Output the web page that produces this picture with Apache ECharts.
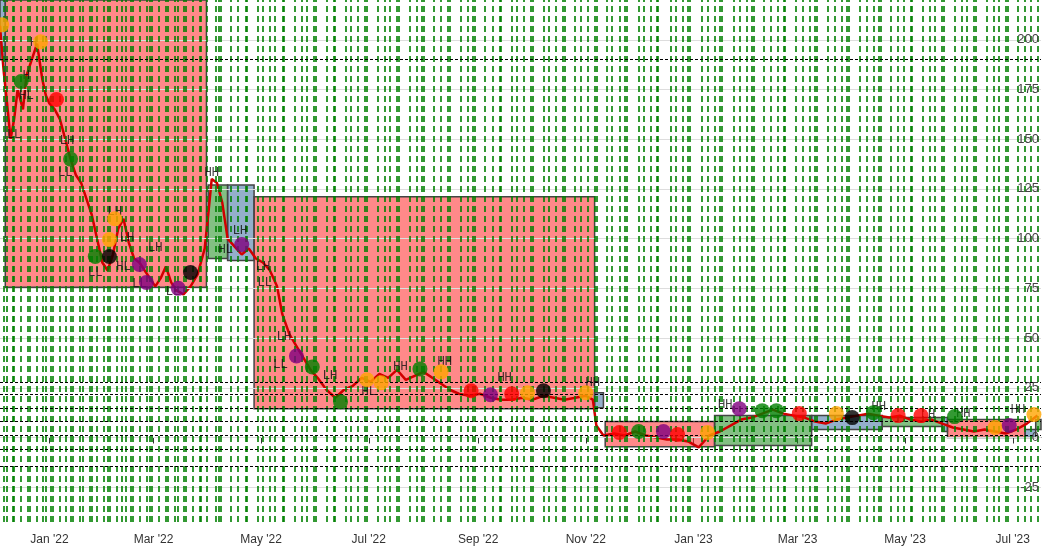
<!DOCTYPE html>
<html>
<head>
<meta charset="utf-8">
<script src="https://cdn.jsdelivr.net/npm/echarts@6/dist/echarts.min.js"></script>
<style>
  html, body { margin: 0; padding: 0; background: #fff; }
  #chart { width: 1042px; height: 554px; }
</style>
</head>
<body>
<div id="chart"></div>
<script>
// all x positions are days since 2021-12-04
const baseDate = Date.UTC(2021, 11, 4);
const dayMs = 86400000;

const priceDays = [0, 2, 4, 6, 8, 10, 13, 15, 18, 21, 24, 26, 28, 31, 34, 37, 40, 43, 46, 49, 52, 55, 58, 61, 64, 67, 70, 73, 76, 79, 82, 85, 88, 91, 94, 97, 100, 104, 108, 112, 116, 118, 120, 123, 126, 129, 133, 137, 141, 145, 149, 153, 157, 160, 164, 168, 172, 176, 180, 185, 190, 195, 200, 205, 210, 215, 220, 225, 230, 235, 240, 245, 250, 255, 260, 266, 272, 278, 284, 290, 296, 302, 308, 314, 320, 326, 332, 336, 338, 342, 348, 354, 360, 366, 372, 378, 384, 390, 396, 402, 408, 414, 420, 426, 432, 438, 444, 450, 456, 462, 468, 474, 480, 486, 492, 498, 504, 510, 516, 522, 528, 534, 540, 546, 552, 558, 564, 570, 576, 582, 588];
const priceValues = [207, 185, 168, 150, 160, 175, 165, 182, 190, 198, 180, 172, 168, 165, 160, 150, 140, 132, 128, 120, 112, 100, 88, 84, 92, 105, 110, 98, 90, 88, 84, 80, 76, 80, 86, 78, 74, 72, 76, 82, 95, 112, 130, 128, 118, 100, 96, 92, 95, 90, 88, 84, 76, 62, 52, 46, 40, 34, 30, 24, 20, 24, 26, 30, 28, 32, 30, 34, 29, 31, 33, 30, 27, 24, 22, 21, 22, 20, 19, 19, 20, 19, 21, 20, 19, 20, 21, 19, 6, 1, 2, 1, 3, 1, 0, -1, -1, -2, -5, 1, 3, 6, 9, 10, 12, 14, 12, 11, 10, 8, 7, 9, 10, 11, 12, 11, 10, 11, 9, 8, 9, 7, 5, 4, 3, 4, 3, 2, 4, 7, 11];

const dotDays = [1, 23, 12, 32, 40, 65, 62, 54, 62, 79, 83, 101, 108, 137, 168, 177, 193, 208, 216, 238, 250, 267, 278, 290, 299, 308, 332, 351, 362, 376, 384, 401, 419, 432, 440, 453, 474, 483, 495, 509, 522, 541, 564, 572, 586];
const dotValues = [207.5, 199, 179, 170, 140, 110, 99.5, 91, 91, 87, 78, 75, 83, 97, 41, 35.5, 18, 29, 27.5, 34.5, 33, 23.5, 21.5, 22, 22.5, 23.5, 22.5, 2.5, 3, 3, 1.5, 2.5, 14.5, 13.5, 13.5, 12, 12, 10, 12.5, 11, 11, 10.5, 5, 6, 11.5];
const dotColors = ['orange', 'orange', 'green', 'red', 'green', 'orange', 'orange', 'green', 'black', 'purple', 'purple', 'purple', 'black', 'purple', 'purple', 'green', 'green', 'orange', 'orange', 'green', 'orange', 'red', 'purple', 'red', 'orange', 'black', 'orange', 'red', 'green', 'purple', 'red', 'orange', 'purple', 'green', 'green', 'red', 'orange', 'black', 'green', 'red', 'red', 'green', 'orange', 'purple', 'orange'];

const tagDays = [19, 15, 15, 8, 38, 37, 65, 72, 70, 88, 54, 79, 98, 120, 128, 136, 149, 150, 161, 159, 187, 227, 252, 209, 286, 336, 411, 498, 546, 526, 577];
const tagValues = [198.5, 182, 172, 152, 149, 133, 113.5, 100.5, 86, 95.5, 83, 77, 73, 133, 94.5, 104, 86, 78, 50.5, 36.5, 31, 35.5, 38, 23, 30, 27.5, 16.5, 15.5, 12, 11.5, 14];
const tagTexts = ['H', 'H', 'HL', 'LL', 'LH', 'LL', 'LH', 'LH', 'HL', 'LH', 'LL', 'LL', 'LL', 'HH', 'HL', 'LH', 'LH', 'LL', 'LH', 'LL', 'LH', 'HH', 'HH', 'HL', 'HH', 'HH', 'HH', 'HH', 'HH', 'LH', 'HH'];

// zones: start day, end day, top, bottom, kind
const zoneStart = [0, 3, 118, 129, 144, 337, 343, 405, 460, 500, 534, 537, 581, 587];
const zoneEnd = [3, 117, 129, 144, 337, 342, 405, 460, 500, 534, 537, 581, 587, 592];
const zoneTop = [225, 225, 127, 127, 121, 22.5, 8, 11, 11, 10, 10, 9, 4, 9];
const zoneBottom = [190, 75.5, 90, 89, 14.5, 15, -4.7, -4, 4, 5.5, 3, 0, 0, 4];
const zoneKind = ['blue', 'red', 'green', 'blue', 'red', 'blue', 'red', 'green', 'blue', 'green', 'blue', 'red', 'blue', 'green'];

const levelValues = [190, 28, 21.6, 14.6, 8.1, 1.1, -6, -14.5];
const yTicks = [-25, 0, 25, 50, 75, 100, 125, 150, 175, 200];
const xTicks = ['2022-01-01', '2022-03-01', '2022-05-01', '2022-07-01', '2022-09-01', '2022-11-01', '2023-01-01', '2023-03-01', '2023-05-01', '2023-07-01'];

const gridDays = [2, 4, 7, 8, 12, 16, 17, 21, 24, 26, 29, 30, 34, 37, 40, 41, 45, 47, 51, 52, 55, 59, 61, 62, 66, 69, 71, 74, 75, 79, 83, 85, 86, 90, 94, 95, 99, 101, 104, 105, 109, 113, 114, 117, 122, 124, 125, 131, 135, 139, 140, 146, 149, 153, 156, 160, 161, 167, 171, 174, 178, 179, 185, 189, 190, 196, 199, 203, 207, 208, 214, 218, 221, 225, 226, 232, 236, 239, 240, 246, 250, 254, 255, 261, 265, 268, 269, 275, 279, 283, 284, 290, 293, 297, 301, 302, 308, 311, 315, 319, 320, 326, 329, 333, 337, 338, 344, 347, 351, 354, 355, 362, 365, 369, 372, 373, 380, 383, 387, 390, 391, 398, 401, 405, 408, 409, 416, 419, 423, 426, 427, 433, 437, 441, 444, 445, 451, 455, 459, 462, 463, 469, 473, 477, 480, 481, 487, 491, 495, 498, 499, 505, 509, 512, 516, 517, 523, 527, 530, 534, 535, 541, 545, 548, 552, 553, 559, 563, 566, 570, 571, 577, 581, 584, 588];

const zoneFill = { red: 'rgba(255,40,40,0.55)', green: 'rgba(30,140,30,0.55)', blue: 'rgba(60,110,160,0.55)' };
const t = d => baseDate + d * dayMs;
const months = ['Jan', 'Feb', 'Mar', 'Apr', 'May', 'Jun', 'Jul', 'Aug', 'Sep', 'Oct', 'Nov', 'Dec'];
const xTickTimes = xTicks.map(s => Date.parse(s + 'T00:00:00Z'));

const chart = echarts.init(document.getElementById('chart'));
chart.setOption({
  animation: false,
  grid: { left: 0, right: 0, top: 0, bottom: 32 },
  xAxis: {
    type: 'value',
    min: t(0),
    max: t(590),
    splitLine: { show: false },
    axisLine: { lineStyle: { color: '#333' } },
    axisTick: { show: true, length: 6, customValues: xTickTimes, lineStyle: { color: '#333' } },
    axisLabel: {
      color: '#333', fontSize: 12, margin: 12, fontFamily: 'Liberation Sans',
      customValues: xTickTimes,
      formatter: v => {
        const d = new Date(v);
        return months[d.getUTCMonth()] + " '" + String(d.getUTCFullYear()).slice(2);
      }
    }
  },
  yAxis: {
    type: 'value',
    position: 'right',
    z: 10,
    min: -42.5,
    max: 220,
    axisLine: { show: false },
    axisTick: { show: false },
    axisLabel: { inside: true, customValues: yTicks, color: '#444', fontSize: 13, fontFamily: 'Liberation Sans', margin: 2 },
    splitLine: { show: false }
  },
  series: [
    {
      type: 'line', data: [], silent: true,
      markLine: {
        symbol: 'none', silent: true, label: { show: false },
        lineStyle: { color: '#ddd', type: 'solid', width: 1 },
        data: yTicks.map(v => ({ yAxis: v }))
      }
    },
    {
      type: 'line', data: [], silent: true,
      markLine: {
        symbol: 'none', silent: true, label: { show: false },
        lineStyle: { color: '#008000', type: [6, 4], width: 1.6 },
        data: gridDays.map(d => ({ xAxis: t(d) }))
      }
    },
    {
      type: 'line', data: [], silent: true, z: 3,
      markArea: {
        silent: true,
        data: zoneStart.map((s, i) => [
          { xAxis: t(s), yAxis: zoneTop[i], itemStyle: { color: zoneFill[zoneKind[i]], borderColor: '#444', borderWidth: 1.5 } },
          { xAxis: t(zoneEnd[i]), yAxis: zoneBottom[i] }
        ])
      },
      markLine: {
        symbol: 'none', silent: true, label: { show: false },
        lineStyle: { color: '#000', type: [3, 2], width: 1 },
        data: levelValues.map(v => ({ yAxis: v }))
      }
    },
    {
      type: 'line', z: 4, symbol: 'none',
      data: priceDays.map((d, i) => [t(d), priceValues[i]]),
      lineStyle: { color: '#d00000', width: 2.5 }
    },
    {
      type: 'scatter', z: 5, symbolSize: 0,
      data: tagDays.map((d, i) => [t(d), tagValues[i], tagTexts[i]]),
      label: { show: true, position: 'inside', formatter: p => p.data[2], color: '#111', fontSize: 12, fontFamily: 'DejaVu Sans Mono' }
    },
    {
      type: 'scatter', z: 6, symbolSize: 15,
      data: dotDays.map((d, i) => ({ value: [t(d), dotValues[i]], itemStyle: { color: dotColors[i] } }))
    }
  ]
});
</script>
</body>
</html>
